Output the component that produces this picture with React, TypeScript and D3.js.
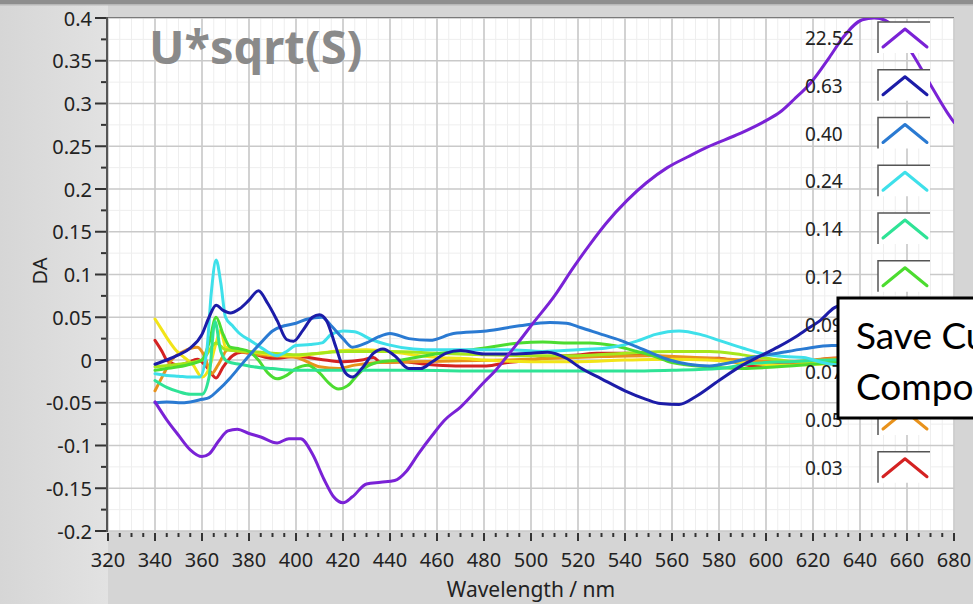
import React from "react";
import * as d3 from "d3";

const W = 973;
const H = 604;

// ---- axis ticks ----
const xMajorTicks = d3.range(320, 681, 20);
const xMinorTicks = d3.range(320, 681, 5);
const yMajorTicks = [0.4, 0.35, 0.3, 0.25, 0.2, 0.15, 0.1, 0.05, 0, -0.05, -0.1, -0.15, -0.2];
const yTickLabels = ["0.4", "0.35", "0.3", "0.25", "0.2", "0.15", "0.1", "0.05", "0", "-0.05", "-0.1", "-0.15", "-0.2"];
const yMinorTicks = [0.375, 0.325, 0.275, 0.225, 0.175, 0.125, 0.075, 0.025, -0.025, -0.075, -0.125, -0.175];

// ---- legend ----
const legendLabels = ["22.52", "0.63", "0.40", "0.24", "0.14", "0.12", "0.09", "0.07", "0.05", "0.03"];
const seriesColors = ["#7a22d6", "#1c1ca8", "#2a7ad2", "#3ee0ea", "#2fe396", "#4cdc30", "#a6e61c", "#f2e418", "#e8921c", "#d42222"];

// ---- series: [wavelength nm, DA] ----
const s2252: [number, number][] = [
  [340, -0.049], [345, -0.07], [350, -0.088], [355, -0.105], [360, -0.113], [363, -0.11], [367, -0.095],
  [371, -0.083], [375, -0.081], [380, -0.086], [385, -0.09], [392, -0.097], [397, -0.092], [402, -0.092],
  [407, -0.11], [412, -0.14], [416, -0.16], [420, -0.167], [424, -0.16], [430, -0.145], [436, -0.143],
  [442, -0.141], [447, -0.13], [452, -0.11], [458, -0.088], [463, -0.071], [470, -0.055], [480, -0.026],
  [485, -0.012], [490, 0.005], [495, 0.022], [500, 0.04], [510, 0.075], [518, 0.108], [525, 0.135],
  [532, 0.16], [541, 0.187], [549, 0.207], [558, 0.225], [567, 0.238], [575, 0.249], [589, 0.265],
  [600, 0.28], [606, 0.29], [612, 0.305], [619, 0.324], [627, 0.354], [633, 0.378], [641, 0.398],
  [646, 0.4], [651, 0.397], [657, 0.38], [663, 0.355], [670, 0.322], [677, 0.29], [680, 0.278],
];
const s063: [number, number][] = [
  [340, -0.005], [345, 0.0], [350, 0.006], [355, 0.014], [360, 0.03], [363, 0.05], [366, 0.064], [369, 0.058],
  [372, 0.055], [376, 0.06], [380, 0.07], [384, 0.081], [388, 0.066], [392, 0.046], [396, 0.024], [399, 0.022],
  [403, 0.035], [407, 0.05], [410, 0.053], [413, 0.046], [417, 0.015], [421, -0.015], [424, -0.02], [428, -0.01],
  [433, 0.008], [437, 0.013], [442, 0.005], [448, -0.01], [453, -0.01], [458, -0.002], [464, 0.008], [470, 0.011],
  [480, 0.007], [490, 0.007], [500, 0.008], [507, 0.009], [515, 0.002], [521, -0.009], [530, -0.022], [540, -0.036],
  [549, -0.046], [555, -0.051], [563, -0.052], [570, -0.043], [580, -0.024], [590, -0.006], [597, 0.004],
  [605, 0.015], [612, 0.026], [618, 0.037], [623, 0.046], [629, 0.061], [640, 0.07], [660, 0.064], [680, 0.05],
];
const s040: [number, number][] = [
  [340, -0.05], [345, -0.049], [350, -0.05], [355, -0.049], [360, -0.046], [363, -0.044], [367, -0.035],
  [372, -0.021], [376, -0.008], [380, 0.005], [385, 0.02], [390, 0.034], [395, 0.04], [400, 0.043], [405, 0.048],
  [411, 0.05], [415, 0.04], [420, 0.025], [424, 0.015], [430, 0.02], [435, 0.027], [440, 0.031], [448, 0.025],
  [457, 0.023], [467, 0.031], [481, 0.034], [495, 0.04], [508, 0.044], [515, 0.043], [521, 0.038], [530, 0.03],
  [538, 0.023], [548, 0.012], [559, 0.0], [567, -0.005], [576, -0.007], [585, -0.003], [594, 0.003], [605, 0.008],
  [616, 0.013], [628, 0.017], [640, 0.017], [660, 0.015], [680, 0.012],
];
const s024: [number, number][] = [
  [340, -0.016], [345, -0.018], [350, -0.019], [355, -0.02], [359, -0.02], [362, 0.01], [364, 0.08], [366, 0.117],
  [368, 0.09], [370, 0.05], [373, 0.04], [376, 0.031], [381, 0.022], [386, 0.013], [392, 0.005], [396, 0.01],
  [400, 0.017], [406, 0.018], [411, 0.02], [415, 0.03], [420, 0.034], [425, 0.033], [432, 0.024], [439, 0.018],
  [450, 0.013], [460, 0.012], [475, 0.012], [490, 0.012], [505, 0.01], [520, 0.012], [532, 0.014], [540, 0.018],
  [545, 0.022], [553, 0.03], [563, 0.034], [572, 0.03], [580, 0.023], [590, 0.014], [599, 0.007], [608, 0.004],
  [616, 0.003], [624, -0.003], [640, -0.008], [660, -0.01], [680, -0.012],
];
const s014: [number, number][] = [
  [340, -0.024], [345, -0.032], [350, -0.037], [355, -0.04], [360, -0.04], [363, -0.02], [365.5, 0.045], [368, 0.01],
  [371, -0.002], [376, -0.005], [382, -0.008], [390, -0.01], [400, -0.012], [420, -0.012], [450, -0.012],
  [480, -0.013], [510, -0.013], [540, -0.013], [560, -0.012], [580, -0.01], [594, -0.004], [610, -0.002],
  [628, 0.0], [650, 0.0], [680, 0.0],
];
const s012: [number, number][] = [
  [340, -0.012], [345, -0.01], [350, -0.008], [355, -0.005], [360, 0.0], [363, 0.02], [366, 0.05], [369, 0.03],
  [372, 0.015], [376, 0.013], [380, 0.01], [384, 0.0], [388, -0.015], [392, -0.022], [396, -0.018], [400, -0.01],
  [405, -0.006], [410, -0.015], [414, -0.027], [418, -0.034], [422, -0.03], [426, -0.018], [430, -0.008],
  [436, -0.002], [445, 0.0], [455, 0.005], [465, 0.009], [475, 0.012], [485, 0.016], [495, 0.02], [505, 0.021],
  [515, 0.02], [525, 0.02], [535, 0.017], [545, 0.01], [552, 0.005], [560, -0.003], [575, -0.008], [590, -0.01],
  [605, -0.008], [620, -0.005], [640, 0.0], [680, 0.0],
];
const s009: [number, number][] = [
  [340, -0.008], [350, -0.005], [360, 0.0], [366, 0.02], [370, 0.012], [380, 0.01], [390, 0.008], [400, 0.006],
  [410, 0.008], [420, 0.01], [440, 0.01], [460, 0.008], [480, 0.006], [500, 0.005], [520, 0.005], [540, 0.008],
  [560, 0.01], [576, 0.01], [590, 0.006], [600, 0.002], [615, -0.002], [630, 0.0], [660, 0.0], [680, 0.0],
];
const s007: [number, number][] = [
  [340, 0.048], [343, 0.035], [346, 0.022], [349, 0.011], [352, 0.004], [356, -0.005], [360, -0.02], [363, -0.01],
  [366, 0.02], [368, 0.035], [370, 0.015], [374, 0.012], [380, 0.01], [390, 0.006], [400, 0.005], [410, 0.008],
  [420, 0.011], [430, 0.012], [440, 0.01], [450, 0.006], [460, 0.003], [470, 0.002], [480, 0.0], [500, -0.002],
  [520, -0.002], [540, 0.0], [560, 0.001], [575, 0.0], [590, -0.003], [605, -0.006], [620, -0.005], [640, -0.004],
  [680, -0.003],
];
const s005: [number, number][] = [
  [340, -0.036], [343, -0.02], [347, 0.0], [352, 0.01], [358, 0.015], [361, 0.005], [364, -0.016], [367, -0.005],
  [371, 0.012], [376, 0.01], [382, 0.007], [390, 0.005], [400, 0.003], [410, -0.008], [418, -0.01], [425, -0.006],
  [435, -0.003], [450, -0.002], [470, -0.001], [490, 0.0], [510, 0.002], [530, 0.004], [550, 0.005], [570, 0.003],
  [590, 0.0], [610, -0.002], [630, 0.002], [680, 0.0],
];
const s003: [number, number][] = [
  [340, 0.023], [343, 0.01], [345, 0.0], [350, -0.006], [354, -0.003], [358, 0.001], [362, -0.008], [366, -0.021],
  [369, -0.008], [373, 0.005], [377, 0.009], [383, 0.006], [390, 0.002], [400, 0.004], [410, 0.001], [420, -0.002],
  [428, 0.0], [433, 0.003], [436, -0.003], [445, -0.002], [455, -0.005], [468, -0.007], [481, -0.007], [490, -0.003],
  [500, 0.0], [510, 0.004], [520, 0.006], [528, 0.008], [541, 0.008], [553, 0.005], [566, 0.002], [580, 0.002],
  [590, -0.005], [595, -0.007], [607, -0.003], [615, -0.003], [624, 0.001], [628, 0.002], [640, 0.003], [680, 0.0],
];
const allSeries = [s2252, s063, s040, s024, s014, s012, s009, s007, s005, s003];

const PL = 108, PR = 954, PT = 18, PB = 531;
const FONT = "'Noto Sans', 'Open Sans', sans-serif";

export default function App() {
  const x = d3.scaleLinear().domain([320, 680]).range([PL, PR]);
  const y = d3.scaleLinear().domain([-0.2, 0.4]).range([PB, PT]);
  const line = d3
    .line<[number, number]>()
    .x((d) => x(d[0]))
    .y((d) => y(d[1]))
    .curve(d3.curveMonotoneX);

  const rowTop = (i: number) => 22 + i * 47.75;
  const drawOrder = d3.range(allSeries.length).reverse();

  return (
    <svg
      width={W}
      height={H}
      viewBox={`0 0 ${W} ${H}`}
      style={{ position: "absolute", left: 0, top: 0, display: "block" }}
    >
      <defs>
        <linearGradient id="bgLeft" x1="0" x2="1" y1="0" y2="0">
          <stop offset="0" stopColor="#d6d6d6" />
          <stop offset="1" stopColor="#e2e2e2" />
        </linearGradient>
        <clipPath id="plotClip">
          <rect x={PL} y={PT} width={PR - PL} height={PB - PT} />
        </clipPath>
      </defs>

      {/* background */}
      <rect x={0} y={0} width={W} height={H} fill="#d5d5d5" />
      <rect x={0} y={0} width={PL} height={H} fill="url(#bgLeft)" />
      <rect x={0} y={0} width={W} height={4} fill="#8e8e8e" />
      <rect x={0} y={4} width={W} height={1.5} fill="#b8b8b8" />

      {/* plot area */}
      <rect x={PL} y={PT} width={PR - PL} height={PB - PT} fill="#ffffff" />

      {/* minor grid */}
      {xMinorTicks.map((t) => (
        <line key={"xm" + t} x1={x(t)} x2={x(t)} y1={PT} y2={PB} stroke="#eeeeee" strokeWidth={1} />
      ))}
      {yMinorTicks.map((t) => (
        <line key={"ym" + t} x1={PL} x2={PR} y1={y(t)} y2={y(t)} stroke="#eeeeee" strokeWidth={1} />
      ))}
      {/* major grid */}
      {xMajorTicks.map((t) => (
        <line key={"xg" + t} x1={x(t)} x2={x(t)} y1={PT} y2={PB} stroke="#c9c9c9" strokeWidth={1.6} />
      ))}
      {yMajorTicks.map((t) => (
        <line key={"yg" + t} x1={PL} x2={PR} y1={y(t)} y2={y(t)} stroke="#c9c9c9" strokeWidth={1.6} />
      ))}

      {/* title */}
      <text x={149} y={64} fontFamily={FONT} fontWeight={700} fontSize={47} fill="#8a8a8a">
        U*sqrt(S)
      </text>

      {/* series */}
      <g clipPath="url(#plotClip)">
        {drawOrder.map((i) => (
          <path
            key={"s" + i}
            d={line(allSeries[i]) || ""}
            fill="none"
            stroke={seriesColors[i]}
            strokeWidth={3}
            strokeLinejoin="round"
            strokeLinecap="round"
          />
        ))}
      </g>

      {/* frame */}
      <line x1={PL} x2={PR} y1={PT - 0.5} y2={PT - 0.5} stroke="#7a7a7a" strokeWidth={1.2} />
      <line x1={PL - 1} x2={PL - 1} y1={PT - 1} y2={PB + 1} stroke="#555555" strokeWidth={2} />

      {/* y axis ticks */}
      {yMajorTicks.map((t, i) => (
        <g key={"yt" + t}>
          <line x1={95} x2={106} y1={y(t)} y2={y(t)} stroke="#333333" strokeWidth={2} />
          <text
            x={92}
            y={y(t)}
            textAnchor="end"
            dominantBaseline="central"
            fontFamily={FONT}
            fontSize={20}
            fill="#222222"
          >
            {yTickLabels[i]}
          </text>
        </g>
      ))}
      {yMinorTicks.map((t) => (
        <line key={"ymt" + t} x1={101} x2={106} y1={y(t)} y2={y(t)} stroke="#333333" strokeWidth={2} />
      ))}

      {/* x axis ticks */}
      {xMinorTicks.map((t) => (
        <line
          key={"xt" + t}
          x1={x(t)}
          x2={x(t)}
          y1={PB + 2}
          y2={t % 20 === 0 ? PB + 10 : PB + 6}
          stroke="#333333"
          strokeWidth={2}
        />
      ))}
      {xMajorTicks.map((t) => (
        <text
          key={"xl" + t}
          x={x(t)}
          y={567}
          textAnchor="middle"
          fontFamily={FONT}
          fontSize={20}
          fill="#222222"
        >
          {t}
        </text>
      ))}

      {/* axis titles */}
      <text x={(PL + PR) / 2} y={597} textAnchor="middle" fontFamily={FONT} fontSize={21} fill="#222222">
        Wavelength / nm
      </text>
      <text
        transform={`translate(39, 271) rotate(-90)`}
        textAnchor="middle"
        dominantBaseline="central"
        fontFamily={FONT}
        fontSize={20}
        fill="#222222"
      >
        DA
      </text>

      {/* legend */}
      {legendLabels.map((lab, i) => {
        const top = rowTop(i);
        return (
          <g key={"lg" + i}>
            <text
              x={805}
              y={top + 16}
              textAnchor="start"
              dominantBaseline="central"
              fontFamily={FONT}
              fontSize={19}
              fill="#222222"
            >
              {lab}
            </text>
            <rect x={878} y={top} width={52} height={31} fill="#ffffff" />
            <path
              d={`M${878} ${top + 31} V${top} H${930}`}
              fill="none"
              stroke="#555555"
              strokeWidth={1.5}
            />
            <path
              d={`M${883} ${top + 25} L${905} ${top + 7} L${927} ${top + 25}`}
              fill="none"
              stroke={seriesColors[i]}
              strokeWidth={3}
              strokeLinejoin="round"
              strokeLinecap="round"
            />
          </g>
        );
      })}

      {/* tooltip */}
      <rect x={838} y={298} width={150} height={120} fill="#ffffff" stroke="#000000" strokeWidth={3} />
      <text x={856} y={349} fontFamily="Lato, 'Noto Sans', sans-serif" fontSize={37} fill="#000000">
        Save Current
      </text>
      <text x={856} y={400} fontFamily="Lato, 'Noto Sans', sans-serif" fontSize={37} fill="#000000">
        Components
      </text>
    </svg>
  );
}
